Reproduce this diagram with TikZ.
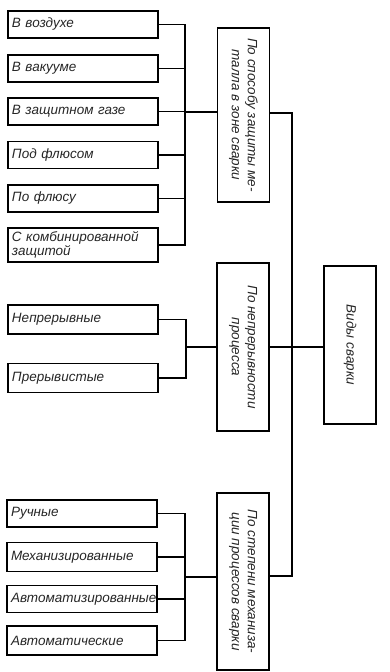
\documentclass[tikz,border=0pt]{standalone}
\usepackage{fontspec}
\setmainfont{Liberation Sans}
\begin{document}
\begin{tikzpicture}[x=1pt, y=-1pt, font=\itshape\fontsize{13.5}{15}\selectfont, line width=1.1pt]
    \tikzset{item box/.style={draw, line width=1.3pt, rectangle, text width=142pt, inner xsep=4pt, minimum height=27pt, align=left, text=black!85}}
    \tikzset{group box/.style={draw, line width=1.3pt, rectangle, minimum width=52pt, inner sep=0pt}}
    \tikzset{group text/.style={rotate=-90, align=center, inner sep=0pt, text=black!85, font=\itshape\fontsize{13.5}{16}\selectfont}}
    \useasboundingbox (0,0) rectangle (390,672);

    % Main node
    \node[group box, minimum height=158pt] (main) at (350, 345) {};
    \node[group text] (main text) at (main.center) {Виды сварки};

    % Groups
    \node[group box, minimum height=174pt] (g1) at (243.5, 115) {};
    \node[group text] (g1 text) at (g1.center) {По способу защиты ме-\\талла в зоне сварки};
    \node[group box, minimum height=168pt] (g2) at (243, 347) {};
    \node[group text] (g2 text) at (g2.center) {По непрерывности\\процесса};
    \node[group box, minimum height=177pt] (g3) at (243, 581.5) {};
    \node[group text] (g3 text) at (g3.center) {По степени механиза-\\ции процессов сварки};

    % Items of the first group
    \node[item box] (a1) at (83, 24.5) {В воздухе};
    \node[item box] (a2) at (83, 68.5) {В вакууме};
    \node[item box] (a3) at (83, 111.5) {В защитном газе};
    \node[item box] (a4) at (83, 155) {Под флюсом};
    \node[item box] (a5) at (83, 198.5) {По флюсу};
    \node[item box, minimum height=34pt, font=\itshape\fontsize{13.5}{11}\selectfont] (a6) at (83, 245) {С комбинированной\\защитой};

    % Items of the second group
    \node[item box, minimum height=29pt] (b1) at (83, 319.5) {Непрерывные};
    \node[item box, minimum height=29pt] (b2) at (83, 378) {Прерывистые};

    % Items of the third group
    \node[item box] (c1) at (82, 513.5) {Ручные};
    \node[item box, minimum height=29pt] (c2) at (82, 557) {Механизированные};
    \node[item box] (c3) at (82, 599) {Автоматизированные};
    \node[item box, minimum height=29pt] (c4) at (82, 640.5) {Автоматические};

    % Junctions
    \coordinate (j1) at (185, 112);
    \coordinate (j2) at (186, 347);
    \coordinate (j3) at (185, 577);
    \coordinate (k1) at (292, 113);
    \coordinate (k3) at (292, 576);

    % Bus of the first group
    \draw (a1.east) -| (j1) |- (a6.east);
    \draw (a2.east) -- (a2.east -| j1);
    \draw (a3.east) -- (a3.east -| j1);
    \draw (a4.east) -- (a4.east -| j1);
    \draw (a5.east) -- (a5.east -| j1);
    \draw (j1) -- (j1 -| g1.west);

    % Bus of the second group
    \draw (b1.east) -| (j2) |- (b2.east);
    \draw (j2) -- (g2.west);

    % Bus of the third group
    \draw (c1.east) -| (j3) |- (c4.east);
    \draw (c2.east) -- (c2.east -| j3);
    \draw (c3.east) -- (c3.east -| j3);
    \draw (j3) -- (j3 -| g3.west);

    % Trunk to the main node
    \draw (k1 -| g1.east) -- (k1) -- (k3) -- (k3 -| g3.east);
    \draw (g2.east) -- (g2.east -| main.west);
\end{tikzpicture}
\end{document}
